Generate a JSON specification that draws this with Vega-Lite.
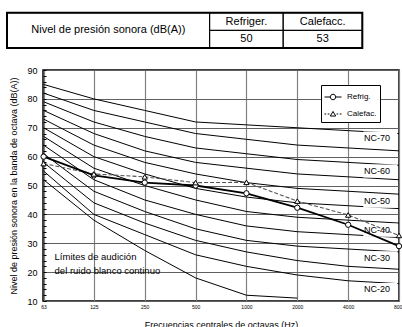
{
  "$schema": "https://vega.github.io/schema/vega-lite/v6.json",
  "width": 356,
  "height": 231,
  "autosize": {"type": "none"},
  "padding": {"left": 43, "top": 70, "right": 3, "bottom": 26},
  "config": {
    "font": "Liberation Sans",
    "view": {"stroke": "black", "strokeWidth": 1.5},
    "axis": {"labelColor": "black", "titleColor": "black", "titleFontWeight": "normal", "labelFlush": false, "labelOverlap": false, "labelBound": false},
    "legend": {"strokeColor": "black", "fillColor": "white", "strokeWidth": 1}
  },
  "datasets": {
    "nc": [
      {"curva": "NC-70", "f": 63, "db": 85}, {"curva": "NC-70", "f": 125, "db": 80}, {"curva": "NC-70", "f": 250, "db": 76}, {"curva": "NC-70", "f": 500, "db": 72}, {"curva": "NC-70", "f": 1000, "db": 71}, {"curva": "NC-70", "f": 2000, "db": 70}, {"curva": "NC-70", "f": 4000, "db": 69}, {"curva": "NC-70", "f": 8000, "db": 68},
      {"curva": "NC-65", "f": 63, "db": 82}, {"curva": "NC-65", "f": 125, "db": 76}, {"curva": "NC-65", "f": 250, "db": 72}, {"curva": "NC-65", "f": 500, "db": 68}, {"curva": "NC-65", "f": 1000, "db": 66}, {"curva": "NC-65", "f": 2000, "db": 64}, {"curva": "NC-65", "f": 4000, "db": 63}, {"curva": "NC-65", "f": 8000, "db": 62},
      {"curva": "NC-60", "f": 63, "db": 79}, {"curva": "NC-60", "f": 125, "db": 72}, {"curva": "NC-60", "f": 250, "db": 67}, {"curva": "NC-60", "f": 500, "db": 63}, {"curva": "NC-60", "f": 1000, "db": 61}, {"curva": "NC-60", "f": 2000, "db": 59}, {"curva": "NC-60", "f": 4000, "db": 58}, {"curva": "NC-60", "f": 8000, "db": 57},
      {"curva": "NC-55", "f": 63, "db": 76}, {"curva": "NC-55", "f": 125, "db": 68}, {"curva": "NC-55", "f": 250, "db": 62}, {"curva": "NC-55", "f": 500, "db": 58}, {"curva": "NC-55", "f": 1000, "db": 56}, {"curva": "NC-55", "f": 2000, "db": 54}, {"curva": "NC-55", "f": 4000, "db": 53}, {"curva": "NC-55", "f": 8000, "db": 52},
      {"curva": "NC-50", "f": 63, "db": 73}, {"curva": "NC-50", "f": 125, "db": 64}, {"curva": "NC-50", "f": 250, "db": 58}, {"curva": "NC-50", "f": 500, "db": 54}, {"curva": "NC-50", "f": 1000, "db": 51}, {"curva": "NC-50", "f": 2000, "db": 49}, {"curva": "NC-50", "f": 4000, "db": 48}, {"curva": "NC-50", "f": 8000, "db": 47},
      {"curva": "NC-45", "f": 63, "db": 70}, {"curva": "NC-45", "f": 125, "db": 60}, {"curva": "NC-45", "f": 250, "db": 54}, {"curva": "NC-45", "f": 500, "db": 49}, {"curva": "NC-45", "f": 1000, "db": 46}, {"curva": "NC-45", "f": 2000, "db": 44}, {"curva": "NC-45", "f": 4000, "db": 43}, {"curva": "NC-45", "f": 8000, "db": 42},
      {"curva": "NC-40", "f": 63, "db": 67}, {"curva": "NC-40", "f": 125, "db": 56}, {"curva": "NC-40", "f": 250, "db": 50}, {"curva": "NC-40", "f": 500, "db": 45}, {"curva": "NC-40", "f": 1000, "db": 41}, {"curva": "NC-40", "f": 2000, "db": 39}, {"curva": "NC-40", "f": 4000, "db": 38}, {"curva": "NC-40", "f": 8000, "db": 37},
      {"curva": "NC-35", "f": 63, "db": 64}, {"curva": "NC-35", "f": 125, "db": 52}, {"curva": "NC-35", "f": 250, "db": 45}, {"curva": "NC-35", "f": 500, "db": 40}, {"curva": "NC-35", "f": 1000, "db": 36}, {"curva": "NC-35", "f": 2000, "db": 34}, {"curva": "NC-35", "f": 4000, "db": 33}, {"curva": "NC-35", "f": 8000, "db": 32},
      {"curva": "NC-30", "f": 63, "db": 61}, {"curva": "NC-30", "f": 125, "db": 48}, {"curva": "NC-30", "f": 250, "db": 41}, {"curva": "NC-30", "f": 500, "db": 35}, {"curva": "NC-30", "f": 1000, "db": 31}, {"curva": "NC-30", "f": 2000, "db": 29}, {"curva": "NC-30", "f": 4000, "db": 28}, {"curva": "NC-30", "f": 8000, "db": 27},
      {"curva": "NC-25", "f": 63, "db": 58}, {"curva": "NC-25", "f": 125, "db": 44}, {"curva": "NC-25", "f": 250, "db": 37}, {"curva": "NC-25", "f": 500, "db": 31}, {"curva": "NC-25", "f": 1000, "db": 27}, {"curva": "NC-25", "f": 2000, "db": 24}, {"curva": "NC-25", "f": 4000, "db": 22}, {"curva": "NC-25", "f": 8000, "db": 21},
      {"curva": "NC-20", "f": 63, "db": 55}, {"curva": "NC-20", "f": 125, "db": 40}, {"curva": "NC-20", "f": 250, "db": 33}, {"curva": "NC-20", "f": 500, "db": 26}, {"curva": "NC-20", "f": 1000, "db": 22}, {"curva": "NC-20", "f": 2000, "db": 19}, {"curva": "NC-20", "f": 4000, "db": 17}, {"curva": "NC-20", "f": 8000, "db": 16},
      {"curva": "Umbral", "f": 63, "db": 52}, {"curva": "Umbral", "f": 125, "db": 38}, {"curva": "Umbral", "f": 250, "db": 27.5}, {"curva": "Umbral", "f": 500, "db": 18}, {"curva": "Umbral", "f": 1000, "db": 12}, {"curva": "Umbral", "f": 2000, "db": 11}
    ],
    "etiquetas": [
      {"curva": "NC-70", "f": 8000, "db": 66.5},
      {"curva": "NC-60", "f": 8000, "db": 55},
      {"curva": "NC-50", "f": 8000, "db": 44.5},
      {"curva": "NC-40", "f": 8000, "db": 34.5},
      {"curva": "NC-30", "f": 8000, "db": 25},
      {"curva": "NC-20", "f": 8000, "db": 14}
    ],
    "notas": [
      {"texto": "Límites de audición", "f": 63, "db": 25.3},
      {"texto": "del ruido blanco continuo", "f": 63, "db": 20.4}
    ],
    "medidas": [
      {"serie": "Refrig.", "f": 63, "db": 60}, {"serie": "Refrig.", "f": 125, "db": 53.5}, {"serie": "Refrig.", "f": 250, "db": 51}, {"serie": "Refrig.", "f": 500, "db": 50}, {"serie": "Refrig.", "f": 1000, "db": 47.3}, {"serie": "Refrig.", "f": 2000, "db": 42.3}, {"serie": "Refrig.", "f": 4000, "db": 36.4}, {"serie": "Refrig.", "f": 8000, "db": 29},
      {"serie": "Calefac.", "f": 63, "db": 57.6}, {"serie": "Calefac.", "f": 125, "db": 54}, {"serie": "Calefac.", "f": 250, "db": 53}, {"serie": "Calefac.", "f": 500, "db": 51}, {"serie": "Calefac.", "f": 1000, "db": 51.1}, {"serie": "Calefac.", "f": 2000, "db": 44.6}, {"serie": "Calefac.", "f": 4000, "db": 39.8}, {"serie": "Calefac.", "f": 8000, "db": 32.7}
    ],
    "tabla": [
      {"texto": "Nivel de presión sonora (dB(A))", "c0": 0, "c1": 215, "r0": 0, "r1": 2},
      {"texto": "Refriger.", "c0": 215, "c1": 293, "r0": 0, "r1": 1},
      {"texto": "Calefacc.", "c0": 293, "c1": 377, "r0": 0, "r1": 1},
      {"texto": "50", "c0": 215, "c1": 293, "r0": 1, "r1": 2},
      {"texto": "53", "c0": 293, "c1": 377, "r0": 1, "r1": 2}
    ]
  },
  "layer": [
    {
      "layer": [
        {
          "data": {"name": "nc"},
          "mark": {"type": "line", "color": "black", "strokeWidth": 1},
          "encoding": {
            "x": {"field": "f", "type": "quantitative",
              "scale": {"type": "log", "base": 2, "domain": [62.5, 8000], "nice": false},
              "axis": {"values": [63, 125, 250, 500, 1000, 2000, 4000, 8000], "format": "d", "labelFontSize": 5, "ticks": false, "labelPadding": 3, "gridColor": "#808080", "gridWidth": 1.2, "domain": false, "title": "Frecuencias centrales de octavas (Hz)", "titleFontSize": 9, "titlePadding": 11}},
            "y": {"field": "db", "type": "quantitative",
              "scale": {"domain": [10, 90], "nice": false, "zero": false},
              "axis": {"orient": "left", "values": [10, 20, 30, 40, 50, 60, 70, 80, 90],
                "ticks": false, "grid": true,
                "gridColor": "#606060", "domain": false, "labelFontSize": 9, "labelPadding": 6,
                "title": "Nivel de presión sonora en la banda de octava (dB(A))", "titleFontSize": 9, "titlePadding": 8}},
            "detail": {"field": "curva"}
          }
        },
        {
          "data": {"name": "notas"},
          "mark": {"type": "text", "align": "left", "baseline": "middle", "dx": 11, "fontSize": 9.5, "color": "black"},
          "encoding": {
            "x": {"field": "f", "type": "quantitative"},
            "y": {"field": "db", "type": "quantitative",
              "axis": {"orient": "left", "values": [10, 12, 14, 16, 18, 20, 22, 24, 26, 28, 30, 32, 34, 36, 38, 40, 42, 44, 46, 48, 50, 52, 54, 56, 58, 60, 62, 64, 66, 68, 70, 72, 74, 76, 78, 80, 82, 84, 86, 88, 90],
                "labels": false, "grid": false, "domain": false, "ticks": true, "tickSize": -3, "tickColor": "black", "tickWidth": 1, "title": null}},
            "text": {"field": "texto"}
          }
        },
        {
          "data": {"name": "etiquetas"},
          "mark": {"type": "point", "shape": "M-2.1,-0.38L-0.1,-0.38L-0.1,0.38L-2.1,0.38Z", "size": 1156, "filled": true, "fill": "white", "stroke": null, "opacity": 1},
          "encoding": {
            "x": {"field": "f", "type": "quantitative"},
            "y": {"field": "db", "type": "quantitative", "axis": null}
          }
        },
        {
          "data": {"name": "etiquetas"},
          "mark": {"type": "text", "align": "right", "baseline": "middle", "dx": -9, "fontSize": 9, "color": "black"},
          "encoding": {
            "x": {"field": "f", "type": "quantitative"},
            "y": {"field": "db", "type": "quantitative", "axis": null},
            "text": {"field": "curva"}
          }
        },
        {
          "data": {"name": "medidas"},
          "transform": [{"filter": "datum.serie === 'Calefac.'"}],
          "mark": {"type": "line", "color": "#555555", "strokeWidth": 1.1, "strokeDash": [4, 2]},
          "encoding": {
            "x": {"field": "f", "type": "quantitative"},
            "y": {"field": "db", "type": "quantitative", "axis": null}
          }
        },
        {
          "data": {"name": "medidas"},
          "transform": [{"filter": "datum.serie === 'Refrig.'"}],
          "mark": {"type": "line", "color": "black", "strokeWidth": 1.8},
          "encoding": {
            "x": {"field": "f", "type": "quantitative"},
            "y": {"field": "db", "type": "quantitative", "axis": null}
          }
        },
        {
          "data": {"name": "medidas"},
          "mark": {"type": "point", "filled": true, "fill": "white", "stroke": "black", "strokeWidth": 1, "size": 28, "opacity": 1},
          "encoding": {
            "x": {"field": "f", "type": "quantitative"},
            "y": {"field": "db", "type": "quantitative", "axis": null},
            "shape": {"field": "serie", "type": "nominal",
              "scale": {"domain": ["Refrig.", "Calefac."], "range": ["circle", "triangle-up"]},
              "legend": null}
          }
        },
        {
          "data": {"name": "medidas"},
          "mark": {"type": "point", "filled": false, "color": "black", "opacity": 0},
          "encoding": {
            "x": {"field": "f", "type": "quantitative"},
            "y": {"field": "db", "type": "quantitative", "axis": null},
            "shape": {"field": "serie", "type": "nominal",
              "scale": {"domain": ["Refrig.", "Calefac."], "range": ["M-1,0L-0.32,0M0.32,0L1,0M0.32,0A0.32,0.32,0,1,1,-0.32,0A0.32,0.32,0,1,1,0.32,0Z", "M-1,0L-0.8,0M-0.62,0L-0.42,0M0.42,0L0.62,0M0.8,0L1,0M0,-0.3L0.32,0.24L-0.32,0.24Z"]},
              "legend": {"orient": "none", "legendX": 278, "legendY": 15, "title": null, "padding": 3, "fillColor": "white", "strokeColor": "black",
                "symbolSize": 289, "labelFontSize": 8, "labelOffset": 5, "rowPadding": 3, "symbolStrokeWidth": 1, "symbolOpacity": 1,
                "symbolFillColor": "white", "symbolStrokeColor": "black", "labelColor": "black",
                "encode": {"legend": {"stroke": {"value": "black"}, "strokeWidth": {"value": 1}, "fill": {"value": "white"}}}}}
          }
        }
      ],
      "resolve": {"axis": {"y": "independent"}, "scale": {"shape": "independent"}}
    },
    {
      "data": {"name": "tabla"},
      "transform": [
        {"calculate": "(datum.c0 + datum.c1) / 2", "as": "cm"},
        {"calculate": "(datum.r0 + datum.r1) / 2", "as": "rm"}
      ],
      "layer": [
        {
          "mark": {"type": "rect", "fill": null, "stroke": "black", "strokeWidth": 1},
          "encoding": {
            "x": {"field": "c0", "type": "quantitative", "scale": {"domain": [0, 377], "range": [-36, 341]}, "axis": null},
            "x2": {"field": "c1"},
            "y": {"field": "r0", "type": "quantitative", "scale": {"domain": [0, 2], "range": [-57.3, -22]}, "axis": null},
            "y2": {"field": "r1"}
          }
        },
        {
          "mark": {"type": "rect", "fill": null, "stroke": "black", "strokeWidth": 2},
          "encoding": {
            "x": {"aggregate": "min", "field": "c0", "type": "quantitative"},
            "x2": {"aggregate": "max", "field": "c1"},
            "y": {"aggregate": "min", "field": "r0", "type": "quantitative"},
            "y2": {"aggregate": "max", "field": "r1"}
          }
        },
        {
          "mark": {"type": "text", "fontSize": 11, "baseline": "middle", "align": "center", "color": "black"},
          "encoding": {
            "x": {"field": "cm", "type": "quantitative"},
            "y": {"field": "rm", "type": "quantitative"},
            "text": {"field": "texto"}
          }
        }
      ]
    }
  ],
  "resolve": {"scale": {"x": "independent", "y": "independent"}}
}
